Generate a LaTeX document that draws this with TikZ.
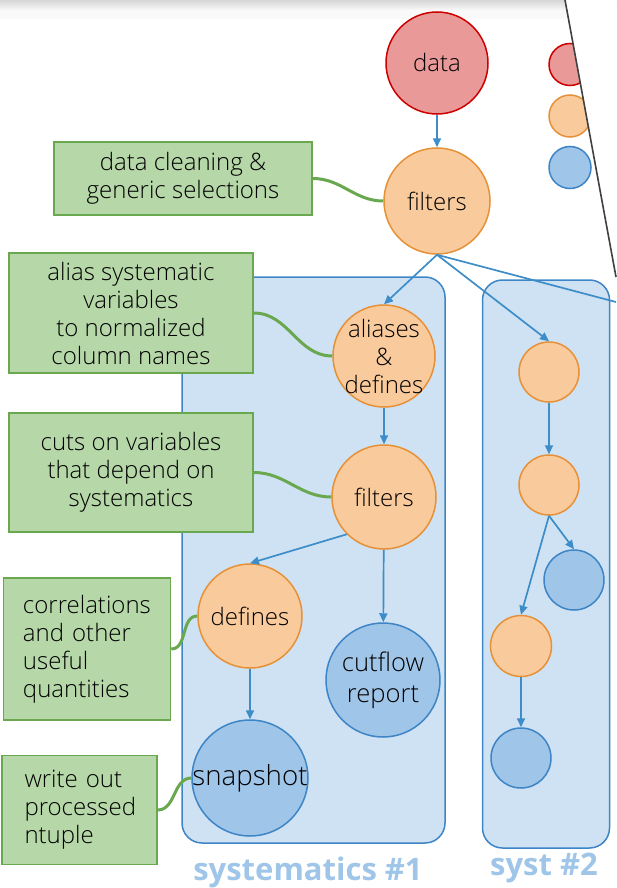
\documentclass[tikz,border=0pt]{standalone}
\usepackage{fontspec}
\IfFontExistsTF{Open Sans Light}
  {\setmainfont{Open Sans Light}[BoldFont={Open Sans Bold}]}
  {\setmainfont{Open Sans}}
\usetikzlibrary{positioning, arrows.meta}

\definecolor{datafill}{HTML}{EA9999}
\definecolor{dataline}{HTML}{CC0000}
\definecolor{stepfill}{HTML}{F9CB9C}
\definecolor{stepline}{HTML}{E69138}
\definecolor{outfill}{HTML}{9FC5E8}
\definecolor{outedge}{HTML}{3D85C6}
\definecolor{groupfill}{HTML}{CFE2F3}
\definecolor{notefill}{HTML}{B6D7A8}
\definecolor{noteline}{HTML}{6AA84F}
\definecolor{flowline}{HTML}{3C8DC8}

\begin{document}
\begin{tikzpicture}[
  x=1pt, y=-1pt,
  font=\fontsize{24}{28}\selectfont,
  >={Triangle[length=9pt,width=8pt]},
  src/.style={circle, draw=dataline, fill=datafill, line width=1.5pt, inner sep=-8pt, align=center},
  proc/.style={circle, draw=stepline, fill=stepfill, line width=1.5pt, inner sep=-8pt, align=center},
  sink/.style={circle, draw=outedge, fill=outfill, line width=1.5pt, inner sep=-8pt, align=center},
  grp/.style={draw=outedge, fill=groupfill, rounded corners=20pt, line width=1.5pt},
  grplbl/.style={font=\fontsize{31}{36}\selectfont\bfseries, text=outfill},
  note/.style={draw=noteline, fill=notefill, line width=1.5pt, align=center, inner sep=0pt},
  notel/.style={note, align=left},
  arr/.style={->, draw=flowline, line width=1.7pt},
  link/.style={draw=noteline, line width=3pt}
]
\useasboundingbox (0,0) rectangle (616,888);
\fill[gray!5] (0,0) rectangle (616,19);
\shade[top color=gray!32, bottom color=gray!5] (0,0) rectangle (616,10);

\node[src, minimum size=42pt] (legsrc) at (570,64.5) {};
\node[proc, minimum size=42pt] (legproc) at (570,116) {};
\node[sink, minimum size=42pt] (legsink) at (570,167.5) {};
\fill[white] (565,0) -- (616,277) -- (616,0) -- cycle;
\draw[line width=1.6pt, black!75] (565,0) -- (616,277);

\node[grp, minimum width=263pt, minimum height=566pt] (sysone) at (313.5,560) {};
\node[grp, minimum width=127pt, minimum height=568pt] (systwo) at (546,564) {};
\node[grplbl] (sysonelbl) at (308,872) {systematics \#1};
\node[grplbl] (systwolbl) at (544,867.5) {syst \#2};

\node[src, minimum size=102pt] (data) at (437,63) {data};
\node[proc, minimum size=106pt] (filt) at (437,201) {filters};
\node[proc, minimum size=102pt] (alias) at (384,356) {aliases\\\&\\defines};
\node[proc, minimum size=104pt] (cuts) at (384,497) {filters};
\node[proc, minimum size=104pt] (defs) at (250,616) {defines};
\node[sink, minimum size=114pt, font=\fontsize{25.6}{31}\selectfont] (cflow) at (383,680) {cutflow\\report};
\node[sink, minimum size=116pt, font=\fontsize{27.7}{32}\selectfont] (snap) at (250,778) {snapshot};

\node[proc, minimum size=60pt] (s2a) at (549,372) {};
\node[proc, minimum size=60pt] (s2b) at (549,485) {};
\node[sink, minimum size=60pt] (s2c) at (574,580) {};
\node[proc, minimum size=61pt] (s2d) at (521,646) {};
\node[sink, minimum size=60pt] (s2e) at (521,758) {};
\coordinate (offpage) at (616,302);

\node[note, minimum width=258pt, minimum height=73pt] (nclean) at (183,178.5) {data cleaning \&\\generic selections};
\node[note, minimum width=244pt, minimum height=120pt] (nalias) at (131,313) {alias systematic\\variables\\to normalized\\column names};
\node[note, minimum width=244pt, minimum height=119pt] (ncuts) at (131,472.5) {cuts on variables\\that depend on\\systematics};
\node[notel, minimum width=167pt, minimum height=142pt, text width=128pt] (ncorr) at (87,649) {correlations\\and other\\useful\\quantities};
\node[notel, minimum width=155pt, minimum height=109pt, text width=110pt] (nwrite) at (79.5,810) {write out\\processed\\ntuple};

\draw[arr] (data) -- (filt);
\draw[arr] (filt.south) -- (alias.north);
\draw[arr] (filt.south) -- (s2a.north);
\draw[draw=flowline, line width=1.7pt] (filt.south) -- (offpage);
\draw[arr] (alias) -- (cuts);
\draw[arr] (cuts.south west) -- (defs.north);
\draw[arr] (cuts) -- (cflow);
\draw[arr] (defs) -- (snap);
\draw[arr] (s2a) -- (s2b);
\draw[arr] (s2b.south) -- (s2c.north);
\draw[arr] (s2b.south) -- (s2d.north);
\draw[arr] (s2d) -- (s2e);

\draw[link] (nclean.east) to[out=0, in=180] (filt.west);
\draw[link] (nalias.east) to[out=0, in=180] (alias.west);
\draw[link] (ncuts.east) to[out=0, in=180] (cuts.west);
\draw[link] (ncorr.east) to[out=0, in=180] (defs.west);
\draw[link] (nwrite.east) to[out=0, in=180] (snap.west);
\end{tikzpicture}
\end{document}
